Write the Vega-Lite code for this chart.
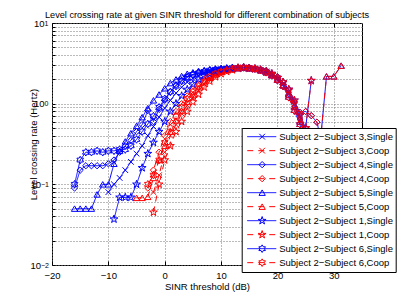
{
"$schema":"https://vega.github.io/schema/vega-lite/v6.json",
"width":310,"height":242,"autosize":"none",
"padding":{"left":52,"top":23,"right":37,"bottom":35},
"background":"white",
"title":{"text":"Level crossing rate at given SINR threshold for different combination of subjects","fontSize":9.2,"fontWeight":"normal","font":"Liberation Sans","color":"black","offset":-2,"anchor":"middle"},
"data":{"values":[
{"s":"a","x":-10,"y":0.08},{"s":"a","x":-9,"y":0.1},{"s":"a","x":-8,"y":0.12},{"s":"a","x":-7,"y":0.15},{"s":"a","x":-6,"y":0.19},{"s":"a","x":-5,"y":0.24},{"s":"a","x":-4,"y":0.3},{"s":"a","x":-3,"y":0.4},{"s":"a","x":-2,"y":0.52},{"s":"a","x":-1,"y":0.68},{"s":"a","x":0,"y":0.88},{"s":"a","x":1,"y":1.1},{"s":"a","x":2,"y":1.35},{"s":"a","x":3,"y":1.6},{"s":"a","x":4,"y":1.85},{"s":"a","x":5,"y":2.05},{"s":"a","x":6,"y":2.25},{"s":"a","x":7,"y":2.4},{"s":"a","x":8,"y":2.5},{"s":"a","x":9,"y":2.6},{"s":"a","x":10,"y":2.65},{"s":"a","x":11,"y":2.7},{"s":"a","x":12,"y":2.72},{"s":"a","x":13,"y":2.75},{"s":"a","x":14,"y":2.8},{"s":"a","x":15,"y":2.78},{"s":"a","x":16,"y":2.72},{"s":"a","x":17,"y":2.62},{"s":"a","x":18,"y":2.5},{"s":"a","x":19,"y":2.3},{"s":"a","x":20,"y":2.05},{"s":"a","x":21,"y":1.75},{"s":"a","x":22,"y":1.4},{"s":"a","x":23,"y":1.0},{"s":"a","x":24,"y":0.68},{"s":"a","x":25,"y":0.45},{"s":"a","x":26,"y":0.28},
{"s":"b","x":-2,"y":0.08},{"s":"b","x":-1,"y":0.13},{"s":"b","x":0,"y":0.25},{"s":"b","x":1,"y":0.4},{"s":"b","x":2,"y":0.55},{"s":"b","x":3,"y":0.75},{"s":"b","x":4,"y":0.95},{"s":"b","x":5,"y":1.2},{"s":"b","x":6,"y":1.45},{"s":"b","x":7,"y":1.75},{"s":"b","x":8,"y":2.0},{"s":"b","x":9,"y":2.25},{"s":"b","x":10,"y":2.45},{"s":"b","x":11,"y":2.6},{"s":"b","x":12,"y":2.7},{"s":"b","x":13,"y":2.75},{"s":"b","x":14,"y":2.8},{"s":"b","x":15,"y":2.78},{"s":"b","x":16,"y":2.72},{"s":"b","x":17,"y":2.62},{"s":"b","x":18,"y":2.5},{"s":"b","x":19,"y":2.3},{"s":"b","x":20,"y":2.05},{"s":"b","x":21,"y":1.75},{"s":"b","x":22,"y":1.4},{"s":"b","x":23,"y":1.0},{"s":"b","x":24,"y":0.68},{"s":"b","x":25,"y":0.45},{"s":"b","x":26,"y":0.28},
{"s":"c","x":-16,"y":0.09},{"s":"c","x":-15,"y":0.15},{"s":"c","x":-14,"y":0.17},{"s":"c","x":-13,"y":0.17},{"s":"c","x":-12,"y":0.17},{"s":"c","x":-11,"y":0.17},{"s":"c","x":-10,"y":0.18},{"s":"c","x":-9,"y":0.2},{"s":"c","x":-8,"y":0.25},{"s":"c","x":-7,"y":0.3},{"s":"c","x":-6,"y":0.35},{"s":"c","x":-5,"y":0.45},{"s":"c","x":-4,"y":0.55},{"s":"c","x":-3,"y":0.82},{"s":"c","x":-2,"y":0.6},{"s":"c","x":-1,"y":0.85},{"s":"c","x":0,"y":1.1},{"s":"c","x":1,"y":1.4},{"s":"c","x":2,"y":1.7},{"s":"c","x":3,"y":1.95},{"s":"c","x":4,"y":2.15},{"s":"c","x":5,"y":2.3},{"s":"c","x":6,"y":2.45},{"s":"c","x":7,"y":2.55},{"s":"c","x":8,"y":2.6},{"s":"c","x":9,"y":2.65},{"s":"c","x":10,"y":2.7},{"s":"c","x":11,"y":2.72},{"s":"c","x":12,"y":2.75},{"s":"c","x":13,"y":2.8},{"s":"c","x":14,"y":2.82},{"s":"c","x":15,"y":2.8},{"s":"c","x":16,"y":2.75},{"s":"c","x":17,"y":2.65},{"s":"c","x":18,"y":2.55},{"s":"c","x":19,"y":2.35},{"s":"c","x":20,"y":2.15},{"s":"c","x":21,"y":1.85},{"s":"c","x":22,"y":1.5},{"s":"c","x":23,"y":1.05},{"s":"c","x":24,"y":0.78},{"s":"c","x":25,"y":0.8},{"s":"c","x":26,"y":0.71},{"s":"c","x":27,"y":0.59},{"s":"c","x":28,"y":0.3},
{"s":"d","x":-3,"y":0.09},{"s":"d","x":-2,"y":0.15},{"s":"d","x":-1,"y":0.25},{"s":"d","x":0,"y":0.4},{"s":"d","x":1,"y":0.6},{"s":"d","x":2,"y":0.8},{"s":"d","x":3,"y":1.0},{"s":"d","x":4,"y":1.25},{"s":"d","x":5,"y":1.5},{"s":"d","x":6,"y":1.75},{"s":"d","x":7,"y":2.0},{"s":"d","x":8,"y":2.2},{"s":"d","x":9,"y":2.4},{"s":"d","x":10,"y":2.55},{"s":"d","x":11,"y":2.65},{"s":"d","x":12,"y":2.72},{"s":"d","x":13,"y":2.8},{"s":"d","x":14,"y":2.82},{"s":"d","x":15,"y":2.8},{"s":"d","x":16,"y":2.75},{"s":"d","x":17,"y":2.65},{"s":"d","x":18,"y":2.55},{"s":"d","x":19,"y":2.35},{"s":"d","x":20,"y":2.15},{"s":"d","x":21,"y":1.85},{"s":"d","x":22,"y":1.5},{"s":"d","x":23,"y":1.05},{"s":"d","x":24,"y":0.78},{"s":"d","x":25,"y":0.8},{"s":"d","x":26,"y":0.71},{"s":"d","x":27,"y":0.59},{"s":"d","x":28,"y":0.3},
{"s":"e","x":-16,"y":0.05},{"s":"e","x":-15,"y":0.05},{"s":"e","x":-14,"y":0.05},{"s":"e","x":-13,"y":0.05},{"s":"e","x":-12,"y":0.075},{"s":"e","x":-11,"y":0.1},{"s":"e","x":-10,"y":0.1},{"s":"e","x":-9,"y":0.18},{"s":"e","x":-8,"y":0.26},{"s":"e","x":-7,"y":0.34},{"s":"e","x":-6,"y":0.43},{"s":"e","x":-5,"y":0.53},{"s":"e","x":-4,"y":0.68},{"s":"e","x":-3,"y":0.88},{"s":"e","x":-2,"y":1.1},{"s":"e","x":-1,"y":1.3},{"s":"e","x":0,"y":1.55},{"s":"e","x":1,"y":1.8},{"s":"e","x":2,"y":2.0},{"s":"e","x":3,"y":2.2},{"s":"e","x":4,"y":2.35},{"s":"e","x":5,"y":2.45},{"s":"e","x":6,"y":2.55},{"s":"e","x":7,"y":2.6},{"s":"e","x":8,"y":2.65},{"s":"e","x":9,"y":2.7},{"s":"e","x":10,"y":2.72},{"s":"e","x":11,"y":2.75},{"s":"e","x":12,"y":2.76},{"s":"e","x":13,"y":2.78},{"s":"e","x":14,"y":2.8},{"s":"e","x":15,"y":2.75},{"s":"e","x":16,"y":2.7},{"s":"e","x":17,"y":2.6},{"s":"e","x":18,"y":2.45},{"s":"e","x":19,"y":2.25},{"s":"e","x":20,"y":2.0},{"s":"e","x":21,"y":1.7},{"s":"e","x":22,"y":1.3},{"s":"e","x":23,"y":0.92},{"s":"e","x":24,"y":0.6},{"s":"e","x":25,"y":0.4},{"s":"e","x":26,"y":0.22},{"s":"e","x":27,"y":0.12},{"s":"e","x":28.7,"y":2.18},{"s":"e","x":30,"y":2.18},{"s":"e","x":31.3,"y":2.96},
{"s":"f","x":-5,"y":0.068},{"s":"f","x":-4,"y":0.068},{"s":"f","x":-3,"y":0.07},{"s":"f","x":-2,"y":0.12},{"s":"f","x":-1,"y":0.2},{"s":"f","x":0,"y":0.3},{"s":"f","x":1,"y":0.45},{"s":"f","x":2,"y":0.62},{"s":"f","x":3,"y":0.82},{"s":"f","x":4,"y":1.05},{"s":"f","x":5,"y":1.3},{"s":"f","x":6,"y":1.55},{"s":"f","x":7,"y":1.85},{"s":"f","x":8,"y":2.1},{"s":"f","x":9,"y":2.3},{"s":"f","x":10,"y":2.5},{"s":"f","x":11,"y":2.62},{"s":"f","x":12,"y":2.7},{"s":"f","x":13,"y":2.78},{"s":"f","x":14,"y":2.8},{"s":"f","x":15,"y":2.75},{"s":"f","x":16,"y":2.7},{"s":"f","x":17,"y":2.6},{"s":"f","x":18,"y":2.45},{"s":"f","x":19,"y":2.25},{"s":"f","x":20,"y":2.0},{"s":"f","x":21,"y":1.7},{"s":"f","x":22,"y":1.3},{"s":"f","x":23,"y":0.92},{"s":"f","x":24,"y":0.6},{"s":"f","x":25,"y":0.4},{"s":"f","x":26,"y":0.22},{"s":"f","x":27,"y":0.12},{"s":"f","x":28.7,"y":2.18},{"s":"f","x":30,"y":2.18},{"s":"f","x":31.3,"y":2.96},
{"s":"g","x":-9,"y":0.037},{"s":"g","x":-8,"y":0.069},{"s":"g","x":-7,"y":0.069},{"s":"g","x":-6,"y":0.069},{"s":"g","x":-5,"y":0.1},{"s":"g","x":-4,"y":0.16},{"s":"g","x":-3,"y":0.24},{"s":"g","x":-2,"y":0.33},{"s":"g","x":-1,"y":0.45},{"s":"g","x":0,"y":0.6},{"s":"g","x":1,"y":0.8},{"s":"g","x":2,"y":1.0},{"s":"g","x":3,"y":1.25},{"s":"g","x":4,"y":1.5},{"s":"g","x":5,"y":1.75},{"s":"g","x":6,"y":2.0},{"s":"g","x":7,"y":2.2},{"s":"g","x":8,"y":2.35},{"s":"g","x":9,"y":2.5},{"s":"g","x":10,"y":2.6},{"s":"g","x":11,"y":2.65},{"s":"g","x":12,"y":2.7},{"s":"g","x":13,"y":2.75},{"s":"g","x":14,"y":2.78},{"s":"g","x":15,"y":2.75},{"s":"g","x":16,"y":2.7},{"s":"g","x":17,"y":2.62},{"s":"g","x":18,"y":2.5},{"s":"g","x":19,"y":2.35},{"s":"g","x":20,"y":2.1},{"s":"g","x":21,"y":1.85},{"s":"g","x":22,"y":1.5},{"s":"g","x":23,"y":1.1},{"s":"g","x":24,"y":0.72},{"s":"g","x":25,"y":0.5},{"s":"g","x":26,"y":1.93},
{"s":"h","x":-2,"y":0.045},{"s":"h","x":-1,"y":0.1},{"s":"h","x":0,"y":0.2},{"s":"h","x":1,"y":0.3},{"s":"h","x":2,"y":0.45},{"s":"h","x":3,"y":0.6},{"s":"h","x":4,"y":0.8},{"s":"h","x":5,"y":1.05},{"s":"h","x":6,"y":1.3},{"s":"h","x":7,"y":1.6},{"s":"h","x":8,"y":1.9},{"s":"h","x":9,"y":2.15},{"s":"h","x":10,"y":2.35},{"s":"h","x":11,"y":2.5},{"s":"h","x":12,"y":2.62},{"s":"h","x":13,"y":2.75},{"s":"h","x":14,"y":2.78},{"s":"h","x":15,"y":2.75},{"s":"h","x":16,"y":2.7},{"s":"h","x":17,"y":2.62},{"s":"h","x":18,"y":2.5},{"s":"h","x":19,"y":2.35},{"s":"h","x":20,"y":2.1},{"s":"h","x":21,"y":1.85},{"s":"h","x":22,"y":1.5},{"s":"h","x":23,"y":1.1},{"s":"h","x":24,"y":0.72},{"s":"h","x":25,"y":0.5},{"s":"h","x":26,"y":1.93},
{"s":"i","x":-16,"y":0.1},{"s":"i","x":-15,"y":0.2},{"s":"i","x":-14,"y":0.25},{"s":"i","x":-13,"y":0.25},{"s":"i","x":-12,"y":0.26},{"s":"i","x":-11,"y":0.25},{"s":"i","x":-10,"y":0.26},{"s":"i","x":-9,"y":0.26},{"s":"i","x":-8,"y":0.27},{"s":"i","x":-7,"y":0.27},{"s":"i","x":-6,"y":0.3},{"s":"i","x":-5,"y":0.36},{"s":"i","x":-4,"y":0.45},{"s":"i","x":-3,"y":0.56},{"s":"i","x":-2,"y":0.7},{"s":"i","x":-1,"y":0.9},{"s":"i","x":0,"y":1.15},{"s":"i","x":1,"y":1.4},{"s":"i","x":2,"y":1.65},{"s":"i","x":3,"y":1.9},{"s":"i","x":4,"y":2.1},{"s":"i","x":5,"y":2.3},{"s":"i","x":6,"y":2.4},{"s":"i","x":7,"y":2.5},{"s":"i","x":8,"y":2.6},{"s":"i","x":9,"y":2.65},{"s":"i","x":10,"y":2.7},{"s":"i","x":11,"y":2.74},{"s":"i","x":12,"y":2.78},{"s":"i","x":13,"y":2.8},{"s":"i","x":14,"y":2.82},{"s":"i","x":15,"y":2.78},{"s":"i","x":16,"y":2.72},{"s":"i","x":17,"y":2.6},{"s":"i","x":18,"y":2.45},{"s":"i","x":19,"y":2.25},{"s":"i","x":20,"y":1.95},{"s":"i","x":21,"y":1.65},{"s":"i","x":22,"y":1.2},{"s":"i","x":23,"y":0.82},{"s":"i","x":24,"y":0.55},{"s":"i","x":25,"y":0.3},
{"s":"j","x":-3,"y":0.1},{"s":"j","x":-2,"y":0.13},{"s":"j","x":-1,"y":0.2},{"s":"j","x":0,"y":0.33},{"s":"j","x":1,"y":0.5},{"s":"j","x":2,"y":0.7},{"s":"j","x":3,"y":0.9},{"s":"j","x":4,"y":1.15},{"s":"j","x":5,"y":1.4},{"s":"j","x":6,"y":1.65},{"s":"j","x":7,"y":1.9},{"s":"j","x":8,"y":2.15},{"s":"j","x":9,"y":2.35},{"s":"j","x":10,"y":2.5},{"s":"j","x":11,"y":2.6},{"s":"j","x":12,"y":2.7},{"s":"j","x":13,"y":2.8},{"s":"j","x":14,"y":2.82},{"s":"j","x":15,"y":2.78},{"s":"j","x":16,"y":2.72},{"s":"j","x":17,"y":2.6},{"s":"j","x":18,"y":2.45},{"s":"j","x":19,"y":2.25},{"s":"j","x":20,"y":1.95},{"s":"j","x":21,"y":1.65},{"s":"j","x":22,"y":1.2},{"s":"j","x":23,"y":0.82},{"s":"j","x":24,"y":0.55},{"s":"j","x":25,"y":0.3}
]},
"layer":[
{"mark":{"type":"line","strokeWidth":1,"clip":true},
 "encoding":{
  "x":{"field":"x","type":"quantitative","scale":{"domain":[-20,35],"nice":false,"zero":false},
       "axis":{"orient":"bottom","values":[-20,-10,0,10,20,30],"title":"SINR threshold (dB)","grid":true,"gridDash":[1,2],"gridColor":"#777","domain":false,"ticks":true,"tickSize":-4,"tickColor":"black","labelPadding":9,"labelFlush":false,"labelFontSize":9.5,"labelColor":"black","labelFont":"Liberation Sans","titleFont":"Liberation Sans","titleFontSize":9.5,"titleFontWeight":"normal","titleColor":"black","titlePadding":2}},
  "y":{"field":"y","type":"quantitative","scale":{"type":"log","domain":[0.01,10],"nice":false},
       "axis":{"orient":"left","values":[0.01,0.02,0.03,0.04,0.05,0.06,0.07,0.08,0.09,0.1,0.2,0.3,0.4,0.5,0.6,0.7,0.8,0.9,1,2,3,4,5,6,7,8,9,10],"grid":true,"gridDash":[1,2],"gridColor":"#777","domain":false,"ticks":true,"tickSize":-3,"tickColor":"black","labelExpr":"indexof([0.01,0.1,1,10], datum.value) >= 0 ? '10' : ''","labelOverlap":false,"labelAlign":"right","labelBaseline":"middle","labelPadding":{"condition":{"test":"datum.value < 0.5","value":14.5},"value":11},"labelFontSize":9.5,"labelColor":"black","labelFont":"Liberation Sans","title":"Level crossing rate (Hertz)","titleFont":"Liberation Sans","titleFontSize":9.5,"titleFontWeight":"normal","titleColor":"black","titleAngle":270,"titleBaseline":"top","titleAlign":"center","titleX":-24,"titleY":121}},
  "color":{"field":"s","type":"nominal","scale":{"range":["#0000ff","#ff0000","#0000ff","#ff0000","#0000ff","#ff0000","#0000ff","#ff0000","#0000ff","#ff0000"]},
       "legend":{"orient":"none","legendX":189.7,"legendY":105,"title":null,"zindex":1,"labelExpr":"['Subject 2−Subject 3,Single','Subject 2−Subject 3,Coop','Subject 2−Subject 4,Single','Subject 2−Subject 4,Coop','Subject 2−Subject 5,Single','Subject 2−Subject 5,Coop','Subject 2−Subject 1,Single','Subject 2−Subject 1,Coop','Subject 2−Subject 6,Single','Subject 2−Subject 6,Coop'][indexof(['a','b','c','d','e','f','g','h','i','j'], datum.label)]","labelFont":"Liberation Sans","labelFontSize":9.5,"labelColor":"black","labelLimit":0,"symbolType":"M-0.3,0H6.95","symbolSize":64,"symbolStrokeWidth":1,"symbolFillColor":"transparent","fillColor":"white","strokeColor":"black","padding":2,"rowPadding":0,"clipHeight":13.33,"labelOffset":26,
         "encode":{"symbols":{"update":{"stroke":{"scale":"color","field":"value"}}}}}},
  "strokeDash":{"field":"s","type":"nominal","scale":{"range":[[1,0],[6,5],[1,0],[6,5],[1,0],[6,5],[1,0],[6,5],[1,0],[6,5]]}}
 }},
{"transform":[{"calculate":"datum.s","as":"t"}],
 "mark":{"type":"point","filled":false,"size":40,"strokeWidth":1,"opacity":1,"clip":true},
 "encoding":{
  "x":{"field":"x","type":"quantitative","axis":{"orient":"top","values":[-20,-10,0,10,20,30],"labels":false,"domain":false,"grid":false,"ticks":true,"tickSize":-4,"tickColor":"black","title":null}},
  "y":{"field":"y","type":"quantitative","axis":{"orient":"left","values":[0.01,0.1,1,10],"labelExpr":"datum.value == 10 ? '1' : datum.value == 1 ? '0' : datum.value == 0.1 ? '−1' : '−2'","grid":false,"domain":false,"ticks":false,"tickSize":0,"labelAlign":"left","labelBaseline":"middle","labelFontSize":7,"labelFont":"Liberation Sans","labelColor":"black","labelDy":-4,"labelOverlap":false,"labelPadding":{"condition":{"test":"datum.value < 0.5","value":11.5},"value":8},"title":null}},
  "stroke":{"field":"t","type":"nominal","scale":{"range":["#0000ff","#ff0000","#0000ff","#ff0000","#0000ff","#ff0000","#0000ff","#ff0000","#0000ff","#ff0000"]},
       "legend":{"orient":"none","legendX":203.4,"legendY":105,"title":null,"zindex":2,"labelExpr":"''","labelFontSize":9.5,"symbolSize":40,"symbolStrokeWidth":1,"symbolFillColor":"transparent","padding":2,"rowPadding":0,"clipHeight":13.33,
         "encode":{"symbols":{"update":{"stroke":{"scale":"stroke","field":"value"}}}}}},
  "shape":{"field":"t","type":"nominal","scale":{"range":["M-0.9,-0.9L0.9,0.9M0.9,-0.9L-0.9,0.9","M-0.9,-0.9L0.9,0.9M0.9,-0.9L-0.9,0.9","diamond","diamond","triangle-up","triangle-up","M0,-1.3L0.29,-0.4L1.24,-0.4L0.47,0.15L0.76,1.05L0,0.5L-0.76,1.05L-0.47,0.15L-1.24,-0.4L-0.29,-0.4Z","M0,-1.3L0.29,-0.4L1.24,-0.4L0.47,0.15L0.76,1.05L0,0.5L-0.76,1.05L-0.47,0.15L-1.24,-0.4L-0.29,-0.4Z","M0,-1.2L0.35,-0.6L1.04,-0.6L0.69,0L1.04,0.6L0.35,0.6L0,1.2L-0.35,0.6L-1.04,0.6L-0.69,0L-1.04,-0.6L-0.35,-0.6Z","M0,-1.2L0.35,-0.6L1.04,-0.6L0.69,0L1.04,0.6L0.35,0.6L0,1.2L-0.35,0.6L-1.04,0.6L-0.69,0L-1.04,-0.6L-0.35,-0.6Z"]}}
 }}
],
"resolve":{"axis":{"x":"independent","y":"independent"}},
"config":{"view":{"stroke":"black","strokeWidth":1},"font":"Liberation Sans"}
}
